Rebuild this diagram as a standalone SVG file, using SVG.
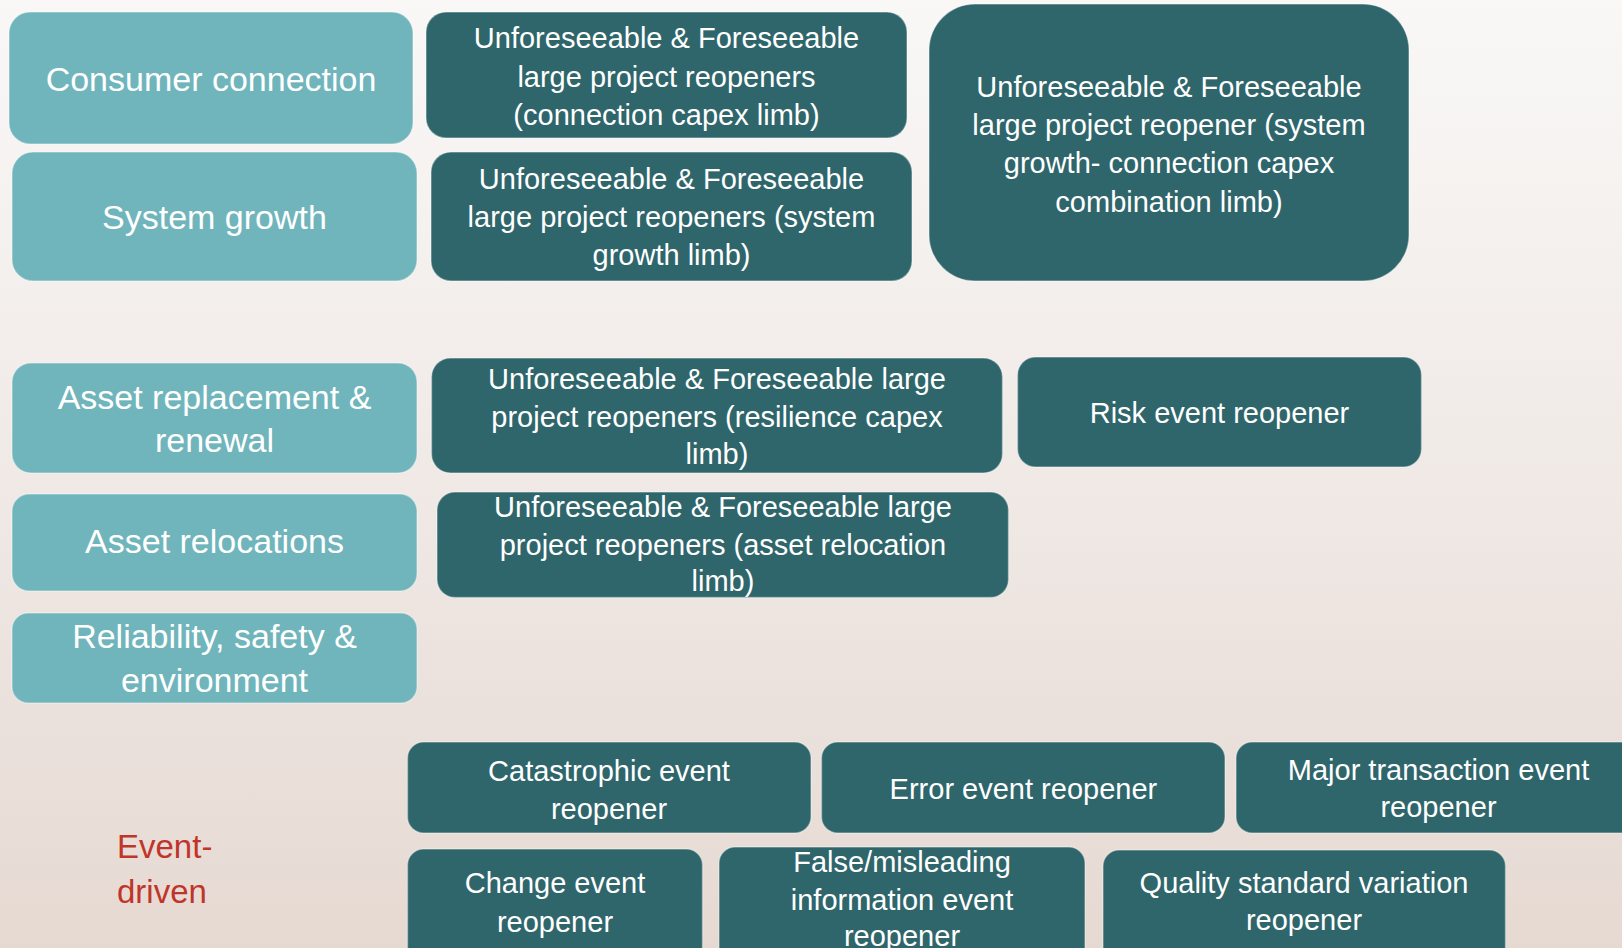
<svg xmlns="http://www.w3.org/2000/svg" width="1622" height="948" viewBox="0 0 1622 948">
  <defs>
    <linearGradient id="bg" x1="0" y1="0" x2="0" y2="1">
      <stop offset="0" stop-color="#F9F8F7"/>
      <stop offset="0.45" stop-color="#F1EBE8"/>
      <stop offset="1" stop-color="#E6D9D2"/>
    </linearGradient>
    <style>
      .cat { fill: #70B5BB; stroke: #FFFFFF; stroke-opacity: 0.35; stroke-width: 1.5; }
      .reo { fill: #2F666B; stroke: #FFFFFF; stroke-opacity: 0.35; stroke-width: 1.5; }
      .t34 { font-family: "Liberation Sans", Arial, sans-serif; font-size: 34px; fill: #FFFFFF; text-anchor: middle; }
      .t29 { font-family: "Liberation Sans", Arial, sans-serif; font-size: 29px; fill: #FFFFFF; text-anchor: middle; }
      .lbl { font-family: "Liberation Sans", Arial, sans-serif; font-size: 33px; fill: #C0352A; }
    </style>
  </defs>

  <rect x="0" y="0" width="1622" height="948" fill="url(#bg)"/>

  <!-- cost categories (light teal) -->
  <g id="consumer-connection">
    <rect class="cat" x="9" y="12" width="404" height="132" rx="21"/>
    <text class="t34" x="211" y="91">Consumer connection</text>
  </g>
  <g id="system-growth">
    <rect class="cat" x="12" y="152" width="405" height="129" rx="21"/>
    <text class="t34" x="214.5" y="229">System growth</text>
  </g>
  <g id="asset-replacement">
    <rect class="cat" x="12" y="363" width="405" height="110" rx="19"/>
    <text class="t34" x="214.5" y="409">Asset replacement &amp;</text>
    <text class="t34" x="214.5" y="452">renewal</text>
  </g>
  <g id="asset-relocations">
    <rect class="cat" x="12" y="494" width="405" height="97" rx="17"/>
    <text class="t34" x="214.5" y="553">Asset relocations</text>
  </g>
  <g id="reliability">
    <rect class="cat" x="12" y="613" width="405" height="90" rx="16"/>
    <text class="t34" x="214.5" y="648">Reliability, safety &amp;</text>
    <text class="t34" x="214.5" y="692">environment</text>
  </g>

  <!-- large project reopeners -->
  <g id="lpr-connection">
    <rect class="reo" x="426" y="12" width="481" height="126" rx="20"/>
    <text class="t29" x="666.5" y="48">Unforeseeable &amp; Foreseeable</text>
    <text class="t29" x="666.5" y="86.5">large project reopeners</text>
    <text class="t29" x="666.5" y="124.5">(connection capex limb)</text>
  </g>
  <g id="lpr-system-growth">
    <rect class="reo" x="431" y="152" width="481" height="129" rx="20"/>
    <text class="t29" x="671.5" y="189">Unforeseeable &amp; Foreseeable</text>
    <text class="t29" x="671.5" y="227">large project reopeners (system</text>
    <text class="t29" x="671.5" y="265">growth limb)</text>
  </g>
  <g id="lpr-combination">
    <rect class="reo" x="929" y="4" width="480" height="277" rx="46"/>
    <text class="t29" x="1169" y="96.5">Unforeseeable &amp; Foreseeable</text>
    <text class="t29" x="1169" y="135">large project reopener (system</text>
    <text class="t29" x="1169" y="173.3">growth- connection capex</text>
    <text class="t29" x="1169" y="211.7">combination limb)</text>
  </g>
  <g id="lpr-resilience">
    <rect class="reo" x="431.5" y="358" width="571" height="115" rx="19"/>
    <text class="t29" x="717" y="389.3">Unforeseeable &amp; Foreseeable large</text>
    <text class="t29" x="717" y="427.3">project reopeners (resilience capex</text>
    <text class="t29" x="717" y="464">limb)</text>
  </g>
  <g id="risk-event">
    <rect class="reo" x="1017.5" y="357" width="404" height="110" rx="18"/>
    <text class="t29" x="1219.5" y="422.7">Risk event reopener</text>
  </g>
  <g id="lpr-asset-relocation">
    <rect class="reo" x="437" y="492" width="571.5" height="105.5" rx="18"/>
    <text class="t29" x="723" y="516.7">Unforeseeable &amp; Foreseeable large</text>
    <text class="t29" x="723" y="555">project reopeners (asset relocation</text>
    <text class="t29" x="723" y="591">limb)</text>
  </g>

  <!-- event-driven reopeners -->
  <g id="event-driven">
    <text class="lbl" x="117" y="858">Event-</text>
    <text class="lbl" x="117" y="903">driven</text>
  </g>
  <g id="catastrophic">
    <rect class="reo" x="407.5" y="742" width="403.5" height="91" rx="16"/>
    <text class="t29" x="609" y="780.7">Catastrophic event</text>
    <text class="t29" x="609" y="819.3">reopener</text>
  </g>
  <g id="error">
    <rect class="reo" x="821.5" y="742" width="403.5" height="91" rx="16"/>
    <text class="t29" x="1023.4" y="799">Error event reopener</text>
  </g>
  <g id="major-transaction">
    <rect class="reo" x="1236" y="742" width="405" height="91" rx="16"/>
    <text class="t29" x="1438.5" y="780">Major transaction event</text>
    <text class="t29" x="1438.5" y="817">reopener</text>
  </g>
  <g id="change">
    <rect class="reo" x="407.5" y="849" width="295" height="115" rx="16"/>
    <text class="t29" x="555" y="893.3">Change event</text>
    <text class="t29" x="555" y="931.7">reopener</text>
  </g>
  <g id="false-misleading">
    <rect class="reo" x="719" y="847" width="366" height="117" rx="16"/>
    <text class="t29" x="902" y="871.7">False/misleading</text>
    <text class="t29" x="902" y="910">information event</text>
    <text class="t29" x="902" y="946">reopener</text>
  </g>
  <g id="quality-standard">
    <rect class="reo" x="1103" y="850" width="402.5" height="114" rx="16"/>
    <text class="t29" x="1304" y="893.3">Quality standard variation</text>
    <text class="t29" x="1304" y="930">reopener</text>
  </g>

  <g id="connectors"/>
</svg>
